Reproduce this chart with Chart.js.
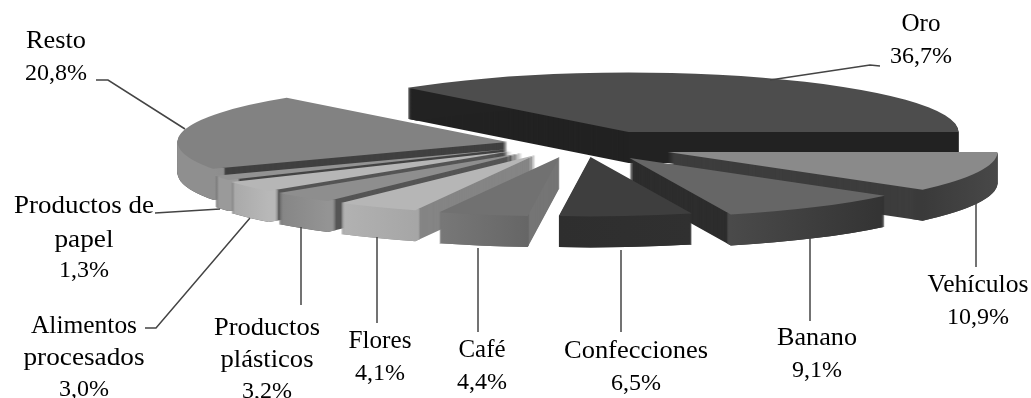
<!DOCTYPE html>
<html>
<head>
<meta charset="utf-8">
<script src="https://cdn.jsdelivr.net/npm/chart.js@4"></script>
<style>
  html, body { margin: 0; background: #fff; overflow: hidden; }
  canvas { display: block; }
</style>
</head>
<body>
<canvas id="chart-exports" width="1031" height="398"></canvas>
<script>
const categories = ['Oro', 'Vehículos', 'Banano', 'Confecciones', 'Café', 'Flores',
    'Productos plásticos', 'Alimentos procesados', 'Productos de papel', 'Resto'];
const shares = [36.7, 10.9, 9.1, 6.5, 4.4, 4.1, 3.2, 3.0, 1.3, 20.8];

// greys: top face, cut faces, outer wall (left and right end)
const topColors   = ['#4d4d4d', '#8a8a8a', '#666666', '#3e3e3e', '#717171', '#b6b6b6', '#8e8e8e', '#b6b6b6', '#939393', '#828282'];
const cutColors   = ['#222222', '#3d3d3d', '#2d2d2d', '#2d2d2d', '#757575', '#858585', '#555555', '#555555', '#444444', '#404040'];
const wallLeft    = ['#222222', '#3a3a3a', '#4a4a4a', '#2e2e2e', '#787878', '#b2b2b2', '#858585', '#a8a8a8', '#9a9a9a', '#8f8f8f'];
const wallRight   = ['#222222', '#484848', '#333333', '#303030', '#666666', '#a6a6a6', '#949494', '#b8b8b8', '#9a9a9a', '#858585'];

// how far each slice is pulled out of the pie, in px
const pullX = [33, 72, 34, -5, -36, -60, -73, -83, -86, -88];
const pullY = [-18, 2, 8, 7, 7, 5, 3, 1, -1, -8];

const PIE_RADIUS = 330;
const TILT = 0.18;
const DEPTH = 31;
const RIM = 14;

// label lines: text, baseline and set width (0 keeps the natural width)
const labelBlocks = [
    { x: 921, lines: [['Oro', 31, 39], ['36,7%', 63, 0]] },
    { x: 56,  lines: [['Resto', 48, 60], ['20,8%', 80, 0]] },
    { x: 978, lines: [['Vehículos', 292, 101], ['10,9%', 324, 0]] },
    { x: 817, lines: [['Banano', 345, 80], ['9,1%', 377, 0]] },
    { x: 636, lines: [['Confecciones', 358, 144], ['6,5%', 390, 0]] },
    { x: 482, lines: [['Café', 357, 47], ['4,4%', 389, 0]] },
    { x: 380, lines: [['Flores', 348, 63], ['4,1%', 380, 0]] },
    { x: 267, lines: [['Productos', 335, 106], ['plásticos', 367, 93], ['3,2%', 398, 0]] },
    { x: 84,  lines: [['Alimentos', 333, 106], ['procesados', 365, 121], ['3,0%', 396, 0]] },
    { x: 84,  lines: [['Productos de', 213, 140], ['papel', 247, 59], ['1,3%', 277, 0]] }
];

const leaderLines = [
    [[880, 66], [870, 65], [770, 80]],
    [[96, 80], [108, 80], [185, 129]],
    [[976, 203], [976, 267]],
    [[810, 238], [810, 321]],
    [[621, 250], [621, 332]],
    [[478, 248], [478, 332]],
    [[377, 237], [377, 323]],
    [[301, 227], [301, 305]],
    [[250, 218], [156, 328], [145, 328]],
    [[155, 213], [220, 209]]
];

function drawSlice(ctx, arc, i, lift, color, rimOnly) {
    const opts = arc.options;
    const inner = arc.innerRadius;
    arc.options = Object.assign({}, opts, { backgroundColor: color, borderWidth: 0 });
    if (rimOnly) arc.innerRadius = arc.outerRadius - RIM;
    ctx.save();
    ctx.translate(pullX[i], (pullY[i] + lift) / TILT);
    arc.draw(ctx);
    ctx.restore();
    arc.options = opts;
    arc.innerRadius = inner;
}

function wallFill(ctx, arc, i) {
    const xs = [arc.startAngle, arc.endAngle].map(a => arc.x + Math.cos(a) * arc.outerRadius);
    const g = ctx.createLinearGradient(Math.min(...xs), 0, Math.max(...xs), 0);
    g.addColorStop(0, wallLeft[i]);
    g.addColorStop(1, wallRight[i]);
    return g;
}

const tiltedPie = {
    id: 'tiltedPie',
    beforeDatasetDraw() {
        return false; // slices are painted below, squashed and extruded
    },
    afterDatasetsDraw(chart) {
        const ctx = chart.ctx;
        const arcs = chart.getDatasetMeta(0).data;
        const cx = arcs[0].x, cy = arcs[0].y;
        ctx.save();
        ctx.translate(cx, cy);
        ctx.scale(1, TILT);
        ctx.translate(-cx, -cy);

        // walls, rear slices first
        const mid = k => (arcs[k].startAngle + arcs[k].endAngle) / 2;
        const order = arcs.map((a, i) => i).sort((a, b) => Math.sin(mid(a)) - Math.sin(mid(b)));
        order.forEach(i => {
            const wall = wallFill(ctx, arcs[i], i);
            for (let d = DEPTH; d > 0; d--) drawSlice(ctx, arcs[i], i, d, cutColors[i], false);
            for (let d = DEPTH; d > 0; d--) drawSlice(ctx, arcs[i], i, d, wall, true);
        });
        // top faces
        order.forEach(i => drawSlice(ctx, arcs[i], i, 0, topColors[i], false));
        ctx.restore();
    },
    afterDraw(chart) {
        const ctx = chart.ctx;
        ctx.save();
        ctx.strokeStyle = '#444';
        ctx.lineWidth = 1.5;
        leaderLines.forEach(pts => {
            ctx.beginPath();
            pts.forEach((p, k) => k ? ctx.lineTo(p[0], p[1]) : ctx.moveTo(p[0], p[1]));
            ctx.stroke();
        });
        ctx.fillStyle = '#000';
        ctx.textAlign = 'center';
        ctx.textBaseline = 'alphabetic';
        labelBlocks.forEach(b => b.lines.forEach(l => {
            // word lines run a little wider than the plain font
            ctx.font = (l[2] ? 25 : 24) + 'px "Liberation Serif"';
            const stretch = l[2] ? l[2] / ctx.measureText(l[0]).width : 1;
            ctx.save();
            ctx.translate(b.x, l[1]);
            ctx.scale(stretch, 1);
            ctx.fillText(l[0], 0, 0);
            ctx.restore();
        }));
        ctx.restore();
    }
};

new Chart(document.getElementById('chart-exports'), {
    type: 'pie',
    data: {
        labels: categories,
        datasets: [{ data: shares, backgroundColor: topColors, borderWidth: 0, clip: false }]
    },
    options: {
        responsive: false,
        animation: false,
        rotation: -42,
        radius: PIE_RADIUS,
        layout: { padding: { left: 160, bottom: 98 } },
        plugins: { legend: { display: false }, tooltip: { enabled: false } }
    },
    plugins: [tiltedPie]
});
</script>
</body>
</html>
